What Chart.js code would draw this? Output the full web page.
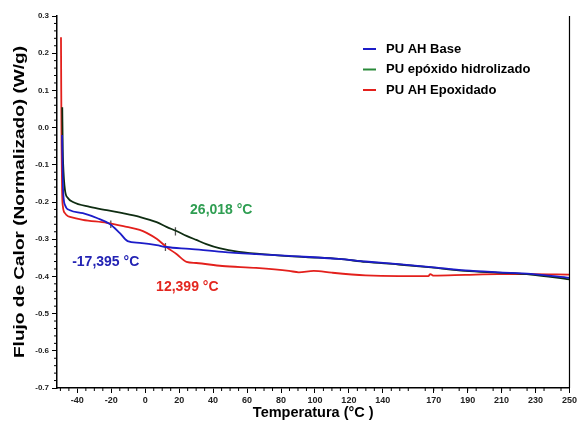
<!DOCTYPE html>
<html>
<head>
<meta charset="utf-8">
<script src="https://cdn.jsdelivr.net/npm/chart.js@4/dist/chart.umd.min.js"></script>
<style>
  html, body { margin: 0; padding: 0; background: #fff; }
  #wrap { width: 579px; height: 428px; }
</style>
</head>
<body>
<div id="wrap"><canvas id="c" width="579" height="428"></canvas></div>
<script>
// series
const seriesNames = ['PU AH Base', 'PU epóxido hidrolizado', 'PU AH Epoxidado'];

const tempBase = [-49.0, -48.5, -47.3, -44.4, -36.8, -28.5, -20.9, -15.1, -10.4, -3.3, 6.7, 12.5, 26.0, 45.4, 65.3, 84.7, 114.0, 129.8, 149.2, 168.5, 188.5, 207.8, 227.2, 250.0];
const flujoBase = [-0.02, -0.16, -0.208, -0.222, -0.230, -0.243, -0.259, -0.283, -0.305, -0.310, -0.316, -0.321, -0.326, -0.334, -0.340, -0.345, -0.353, -0.360, -0.367, -0.375, -0.384, -0.389, -0.393, -0.404];

const tempHidro = [-48.9, -48.6, -48.4, -47.3, -45.6, -42.6, -32.7, -22.7, -13.3, -3.3, 6.7, 12.5, 18.4, 24.3, 30.1, 36.0, 43.6, 55.3, 74.7, 94.6, 114.0, 129.8, 149.2, 168.5, 188.5, 207.8, 227.2, 250.0];
const flujoHidro = [0.055, -0.06, -0.095, -0.168, -0.189, -0.200, -0.213, -0.222, -0.230, -0.240, -0.254, -0.267, -0.278, -0.291, -0.302, -0.313, -0.324, -0.334, -0.342, -0.348, -0.353, -0.361, -0.368, -0.376, -0.385, -0.390, -0.395, -0.408];

const tempEpox = [-49.65, -49.5, -49.3, -49.0, -48.5, -47.3, -45.6, -44.4, -36.8, -22.7, -10.9, -3.3, 0.8, 6.7, 12.5, 18.4, 24.3, 30.1, 45.4, 65.3, 84.7, 90.5, 99.3, 109.9, 129.8, 149.2, 166.8, 168.0, 170.0, 188.5, 207.8, 227.2, 250.0];
const flujoEpox = [0.243, 0.10, -0.05, -0.17, -0.213, -0.230, -0.238, -0.240, -0.248, -0.256, -0.267, -0.275, -0.283, -0.299, -0.321, -0.340, -0.361, -0.364, -0.372, -0.377, -0.385, -0.389, -0.385, -0.390, -0.397, -0.399, -0.399, -0.394, -0.398, -0.396, -0.394, -0.394, -0.395];

// glass transition marks
const tgTemps = [-20.3, 17.8, 11.9];
const tgTop = [-0.250, -0.268, -0.310];
const tgBottom = [-0.270, -0.290, -0.332];
const tgTexts = ['-17,395 °C', '26,018 °C', '12,399 °C'];
const tgTextTemps = [-23.3, 44.8, 24.8];
const tgTextFlujos = [-0.361, -0.222, -0.428];

// tick labels
const xTickValues = [-40, -20, 0, 20, 40, 60, 80, 100, 120, 140, 170, 190, 210, 230, 250];
const yTickValues = [0.3, 0.2, 0.1, 0.0, -0.1, -0.2, -0.3, -0.4, -0.5, -0.6, -0.7];
const yTitle = 'Flujo de Calor (Normalizado) (W/g)';

const lineColors = ['#1c1cc8', '#0f2d12', '#e3201c'];
const legendColors = ['#1c1cc8', '#2a8a3a', '#e3201c'];
const textColors = ['#2323b4', '#2f9e52', '#e3261f'];

const toPoints = (xs, ys) => xs.map((x, i) => ({ x, y: ys[i] }));

const datasets = [
  { label: seriesNames[0], data: toPoints(tempBase, flujoBase), borderColor: lineColors[0] },
  { label: seriesNames[1], data: toPoints(tempHidro, flujoHidro), borderColor: lineColors[1] },
  { label: seriesNames[2], data: toPoints(tempEpox, flujoEpox), borderColor: lineColors[2] }
].map(d => ({ ...d, borderWidth: 1.8, pointRadius: 0, tension: 0.35, cubicInterpolationMode: 'monotone' }));

tgTemps.forEach((t, i) => {
  datasets.push({
    label: 'tg' + i,
    data: [{ x: t, y: tgTop[i] }, { x: t, y: tgBottom[i] }],
    borderColor: '#555',
    borderWidth: 1.3,
    pointRadius: 0
  });
});

const extras = {
  id: 'extras',
  afterDraw(chart) {
    const { ctx, chartArea: a, scales: { x, y } } = chart;
    ctx.save();
    // right frame
    ctx.strokeStyle = '#000';
    ctx.lineWidth = 1.2;
    ctx.beginPath();
    ctx.moveTo(a.right, a.top);
    ctx.lineTo(a.right, a.bottom);
    ctx.stroke();
    // minor ticks
    ctx.lineWidth = 1;
    ctx.beginPath();
    for (let v = -50; v <= 250; v += 5) {
      if (v % 20 === 0) continue;
      const px = x.getPixelForValue(v);
      if (px < a.left || px > a.right) continue;
      ctx.moveTo(px, a.bottom);
      ctx.lineTo(px, a.bottom + 3);
    }
    for (let k = -35; k <= 15; k++) {
      if (k % 5 === 0) continue;
      const py = y.getPixelForValue(k * 0.02);
      ctx.moveTo(a.left, py);
      ctx.lineTo(a.left - 3, py);
    }
    ctx.stroke();
    // y title, stretched along its length like the original
    ctx.save();
    ctx.translate(20, (a.top + a.bottom) / 2);
    ctx.rotate(-Math.PI / 2);
    ctx.scale(1.36, 1);
    ctx.font = 'bold 14px "Liberation Sans", Arial, sans-serif';
    ctx.fillStyle = '#000';
    ctx.textAlign = 'center';
    ctx.textBaseline = 'middle';
    ctx.fillText(yTitle, 0, 0);
    ctx.restore();
    // Tg values
    ctx.font = 'bold 14px "Liberation Sans", Arial, sans-serif';
    ctx.textAlign = 'center';
    ctx.textBaseline = 'middle';
    tgTexts.forEach((t, i) => {
      ctx.fillStyle = textColors[i];
      ctx.fillText(t, x.getPixelForValue(tgTextTemps[i]), y.getPixelForValue(tgTextFlujos[i]));
    });
    // legend
    ctx.font = 'bold 13px "Liberation Sans", Arial, sans-serif';
    ctx.textAlign = 'left';
    seriesNames.forEach((n, i) => {
      const ly = a.top + 33 + i * 20.5;
      ctx.strokeStyle = legendColors[i];
      ctx.lineWidth = 2;
      ctx.beginPath();
      ctx.moveTo(a.left + 306, ly);
      ctx.lineTo(a.left + 319, ly);
      ctx.stroke();
      ctx.fillStyle = '#000';
      ctx.fillText(n, a.left + 329, ly);
    });
    ctx.restore();
  }
};

new Chart(document.getElementById('c'), {
  type: 'line',
  data: { datasets },
  options: {
    responsive: false,
    animation: false,
    layout: { padding: { top: 16, right: 7, left: 0, bottom: 0 } },
    plugins: { legend: { display: false }, tooltip: { enabled: false } },
    scales: {
      x: {
        type: 'linear',
        min: -52,
        max: 250,
        afterBuildTicks: (s) => { s.ticks = xTickValues.map(v => ({ value: v })); },
        afterFit: (s) => { s.height = 40; },
        ticks: {
          autoSkip: false,
          maxRotation: 0,
          color: '#222',
          padding: 2,
          font: { family: '"Liberation Sans", Arial, sans-serif', size: 9, weight: 'bold' },
          callback: (v) => String(v)
        },
        grid: { drawOnChartArea: false, tickLength: 5, color: '#000', tickColor: '#000' },
        border: { color: '#000', width: 1.5 },
        title: {
          display: true,
          text: 'Temperatura (°C )',
          color: '#000',
          padding: { top: 0, bottom: 6 },
          font: { family: '"Liberation Sans", Arial, sans-serif', size: 14.5, weight: 'bold' }
        }
      },
      y: {
        min: -0.7,
        max: 0.3,
        afterBuildTicks: (s) => { s.ticks = yTickValues.map(v => ({ value: v })); },
        afterFit: (s) => { s.width = 57; },
        ticks: {
          color: '#222',
          padding: 3,
          font: { family: '"Liberation Sans", Arial, sans-serif', size: 8, weight: 'bold' },
          callback: (v) => Number(v).toFixed(1)
        },
        grid: { drawOnChartArea: false, tickLength: 5, color: '#000', tickColor: '#000' },
        border: { color: '#000', width: 1.5 }
      }
    }
  },
  plugins: [extras]
});
</script>
</body>
</html>
